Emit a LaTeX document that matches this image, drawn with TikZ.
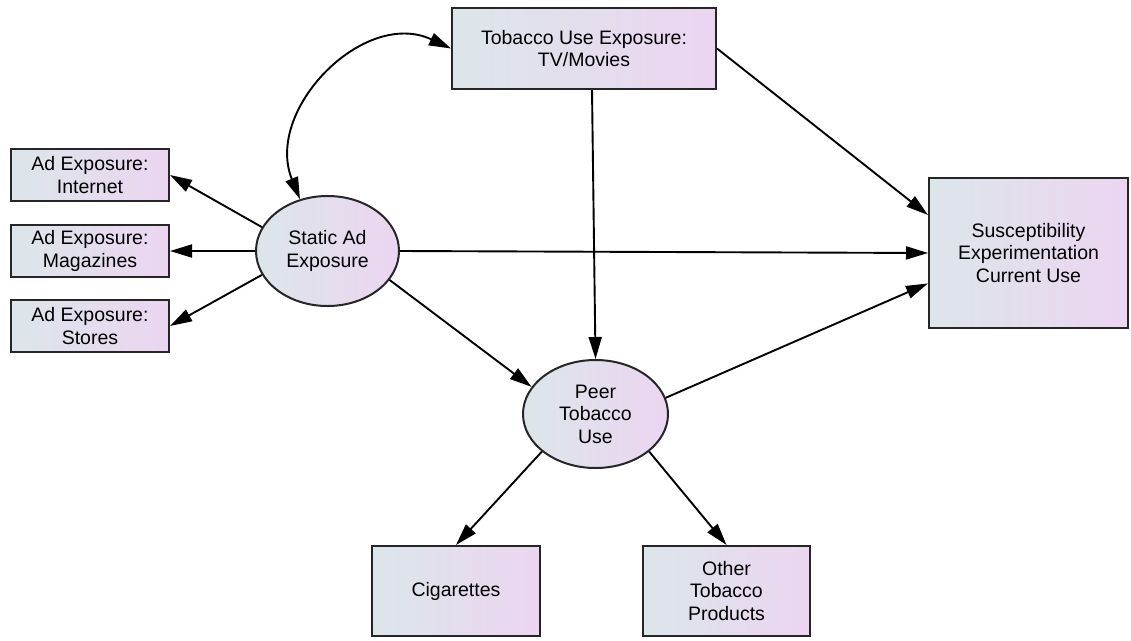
\documentclass[tikz,border=0pt]{standalone}
\usepackage{fontspec}
\setmainfont{Liberation Sans}
\usepackage{tikz}
\usetikzlibrary{arrows.meta,positioning,calc,shapes.geometric}
\definecolor{shadeL}{HTML}{DCE6EA}
\definecolor{shadeR}{HTML}{ECD5F1}

\begin{document}
\begin{tikzpicture}[x=1pt,y=1pt,
   box/.style={rectangle,draw=black!85,line width=2pt,left color=shadeL,right color=shadeR,inner sep=0pt,align=center,font=\fontsize{19.5}{22.5}\selectfont},
   lat/.style={ellipse,draw=black!85,line width=2pt,left color=shadeL,right color=shadeR,inner sep=0pt,align=center,font=\fontsize{19.5}{22.5}\selectfont},
   arr/.style={-{Triangle[length=22pt,width=13pt]},line width=1.9pt},
   arrboth/.style={{Triangle[length=22pt,width=13pt]}-{Triangle[length=22pt,width=13pt]},line width=1.9pt}]
   \useasboundingbox (0,0) rectangle (1131,-640);
   \path (584,-48.5) node (tv) [box,minimum width=264pt,minimum height=81pt] {Tobacco Use Exposure:\\TV/Movies}
         (90,-175) node (int) [box,minimum width=158pt,minimum height=52pt] {Ad Exposure:\\Internet}
         (90,-251) node (mag) [box,minimum width=158pt,minimum height=52pt] {Ad Exposure:\\Magazines}
         (90,-326) node (sto) [box,minimum width=158pt,minimum height=52pt] {Ad Exposure:\\Stores}
         (327.5,-251) node (static) [lat,minimum width=143pt,minimum height=110pt] {Static Ad\\Exposure}
         (595.5,-414) node (peer) [lat,minimum width=145pt,minimum height=108pt] {Peer\\Tobacco\\Use}
         (1028.5,-253) node (susc) [box,minimum width=199pt,minimum height=150pt] {Susceptibility\\Experimentation\\Current Use}
         (456,-591) node (cig) [box,minimum width=168pt,minimum height=90pt] {Cigarettes}
         (726.5,-591) node (oth) [box,minimum width=167pt,minimum height=90pt] {Other\\Tobacco\\Products};
   % measurement model
   \draw [arr] (static.160) -- (int.east);
   \draw [arr] (static.west) -- (mag.east);
   \draw [arr] (static.200) -- (sto.east);
   \draw [arr] (peer.215) -- (cig.north);
   \draw [arr] (peer.325) -- (oth.north);
   % structural paths
   \draw [arrboth] (static.118) to[out=112,in=155,looseness=1.15] (tv.west);
   \draw [arr] (tv.east) -- ($(susc.north west)!0.25!(susc.south west)$);
   \draw [arr] ($(tv.south)+(8,0)$) -- (peer.north);
   \draw [arr] (static.east) -- (susc.west);
   \draw [arr] (static.335) -- (peer.157);
   \draw [arr] (peer.13) -- ($(susc.north west)!0.7!(susc.south west)$);
\end{tikzpicture}
\end{document}
